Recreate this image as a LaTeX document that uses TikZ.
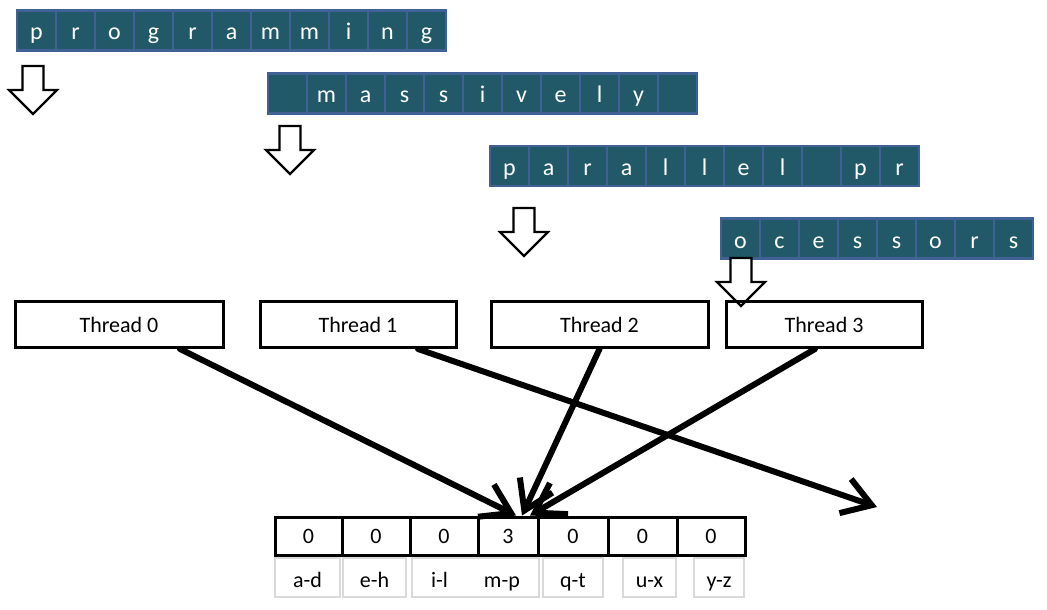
\documentclass[tikz,border=0pt]{standalone}
\usepackage{fontspec}
\setmainfont{Carlito}
\usepackage{xcolor}
\usepackage{tikz}
\usetikzlibrary{positioning,calc,arrows.meta}

\definecolor{cellteal}{HTML}{215968}
\definecolor{cellblue}{HTML}{3F6195}
\definecolor{rangegray}{HTML}{D9D9D9}

\newcommand{\letterRow}[4]{%
  % #1 prefix for the names of the cells
  % #2 x of the centre of the first cell
  % #3 y of the row
  % #4 the letters, one for each cell ({} for an empty cell)
  \foreach \l [count=\i] in {#4}{%
    \node[cellbox] (#1\i) at ({#2+(\i-1)*39},#3) {\l};%
  }%
}

\tikzset{
  blockarrow/.style={draw,fill=white,line width=1.1pt},
  pics/downArrow/.style={code={%
    \draw[blockarrow] (-10.5,0) -- (10.5,0) -- (10.5,24) -- (24,24)
      -- (0,48) -- (-24,24) -- (-10.5,24) -- cycle;
  }}
}

\begin{document}
\begin{tikzpicture}[x=0.5pt,y=-0.5pt,
    cellbox/.style={fill=cellteal,draw=cellblue,line width=1.2pt,text=white,
      minimum width=19.5pt,minimum height=20pt,inner sep=0pt,
      text height=9.5pt,text depth=0pt,font=\fontsize{12}{14}\selectfont},
    threadbox/.style={draw,line width=1.5pt,minimum height=23pt,inner sep=0pt,
      font=\fontsize{11}{13}\selectfont},
    countbox/.style={draw,line width=1.5pt,minimum height=19pt,inner sep=0pt,
      font=\fontsize{11}{13}\selectfont},
    rangebox/.style={draw=rangegray,line width=.6pt,minimum height=19.5pt,inner sep=0pt,
      text height=9.5pt,text depth=0pt,font=\fontsize{11}{13}\selectfont},
    hitarrow/.style={line width=3pt,line cap=round,
      -{Straight Barb[length=14pt,width=18pt]}}]

  \useasboundingbox (0,0) rectangle (1047,609);

  % the text, cut into chunks
  \letterRow{ra}{36.5}{30.5}{p,r,o,g,r,a,m,m,i,n,g}
  \letterRow{rb}{287.5}{93.5}{{},m,a,s,s,i,v,e,l,y,{}}
  \letterRow{rc}{509.5}{166}{p,a,r,a,l,l,e,l,{},p,r}
  \letterRow{rd}{740.5}{238.5}{o,c,e,s,s,o,r,s}

  \pic at (33,66) {downArrow};
  \pic at (290,126) {downArrow};
  \pic at (524,208) {downArrow};
  \pic at (741,258) {downArrow};

  % threads
  \node[threadbox,minimum width=104pt] (t0) at (119,324.5) {Thread 0};
  \node[threadbox,minimum width=98pt] (t1) at (358,324.5) {Thread 1};
  \node[threadbox,minimum width=108.5pt] (t2) at (599.5,324.5) {Thread 2};
  \node[threadbox,minimum width=98pt] (t3) at (824,324.5) {Thread 3};

  % histogram
  \foreach \cx/\cw/\cv [count=\i] in {308.5/33.5/0,376/34/0,444/34/0,
      508/30/3,573/35/0,642.5/34.5/0,711/34/0}{
    \node[countbox,minimum width=\cw pt] (c\i) at (\cx,536) {\cv};
  }
  \foreach \rx/\rw/\rt [count=\i] in {307.5/32.5/a-d,374.5/31.5/e-h,
      475.5/63.5/{i-l\hspace{18pt}m-p},573/30/q-t,649.5/26.5/u-x,719/25/y-z}{
    \node[rangebox,minimum width=\rw pt] (r\i) at (\rx,577.5) {\rt};
  }

  \coordinate (miss) at (877,507);
  \draw[hitarrow] ([xshift=30.5pt]t0.south) -- ([xshift=4pt]c4.north);
  \draw[hitarrow] ([xshift=30pt]t1.south) -- (miss);
  \draw[hitarrow] (t2.south) -- ([xshift=7pt]c4.north);
  \draw[hitarrow] ([xshift=-4.5pt]t3.south) -- ([xshift=11pt]c4.north);
\end{tikzpicture}
\end{document}
